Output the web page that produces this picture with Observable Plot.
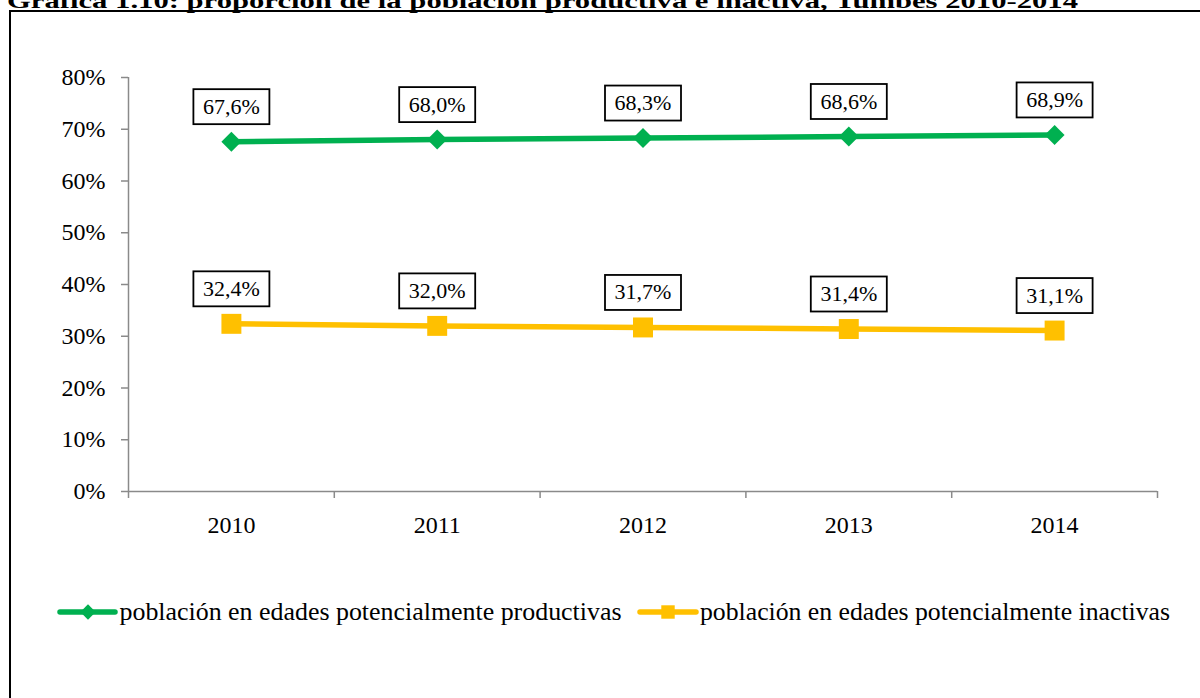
<!DOCTYPE html>
<html>
<head>
<meta charset="utf-8">
<script src="https://cdn.jsdelivr.net/npm/d3@7"></script>
<script src="https://cdn.jsdelivr.net/npm/@observablehq/plot@0.6"></script>
<style>
  body { margin: 0; background: #fff; }
  #wrap { position: relative; width: 1200px; height: 698px; overflow: hidden; background: #fff; }
  #frame { position: absolute; left: 9px; top: 10px; width: 1400px; height: 900px;
           border-left: 2.5px solid #000; border-top: 2.5px solid #000; }
  #chart { position: absolute; left: 0; top: 0; }
  #overlay { position: absolute; left: 0; top: 0; }
  #chart svg text, #overlay text { font-family: "Liberation Serif", "Times New Roman", serif; }
</style>
</head>
<body>
<div id="wrap">
  <div id="frame"></div>
  <div id="chart"></div>
  <svg id="overlay" width="1200" height="698"></svg>
</div>
<script>
// ---- data ----
const titleText = "Gráfica 1.10: proporción de la población productiva e inactiva, Tumbes 2010-2014";
const years = [2010, 2011, 2012, 2013, 2014];
const productivas = [0.676, 0.680, 0.683, 0.686, 0.689];
const inactivas = [0.324, 0.320, 0.317, 0.314, 0.311];
const seriesNames = ["población en edades potencialmente productivas", "población en edades potencialmente inactivas"];
const seriesColors = ["#00B050", "#FFC000"];
const yTicks = [0, 0.1, 0.2, 0.3, 0.4, 0.5, 0.6, 0.7, 0.8];

const data = [];
years.forEach((yr, i) => {
  data.push({year: yr, value: productivas[i], serie: seriesNames[0]});
  data.push({year: yr, value: inactivas[i], serie: seriesNames[1]});
});

const xDomain = [years[0] - 0.5, years[years.length - 1] + 0.5];
const boundaries = d3.range(years.length + 1).map(i => xDomain[0] + i);
const fmtLabel = v => d3.format(".1%")(v).replace(".", ",");
const axisColor = "#8a8a8a";
const font = "Liberation Serif, Times New Roman, serif";

function boxes(index, scales, values, dimensions, context, next) {
  const g = next(index, scales, values, dimensions, context);
  const w = 76, h = 35;
  for (const i of index) {
    const r = document.createElementNS("http://www.w3.org/2000/svg", "rect");
    r.setAttribute("x", values.x[i] - w / 2);
    r.setAttribute("y", values.y[i] - h / 2);
    r.setAttribute("width", w);
    r.setAttribute("height", h);
    r.setAttribute("fill", "#fff");
    r.setAttribute("stroke", "#000");
    r.setAttribute("stroke-width", 1.8);
    g.insertBefore(r, g.firstChild);
  }
  return g;
}

const chart = Plot.plot({
  width: 1200,
  height: 698,
  marginLeft: 128,
  marginRight: 43,
  marginTop: 77,
  marginBottom: 207,
  style: {background: "none", fontFamily: font, fontSize: "24px", color: "#000"},
  x: {type: "linear", domain: xDomain},
  y: {domain: [0, 0.8]},
  color: {domain: seriesNames, range: seriesColors},
  marks: [
    Plot.axisY({ticks: yTicks, tickFormat: d3.format(".0%"), tickSize: 7, tickPadding: 16,
                stroke: axisColor, strokeWidth: 1.5, fill: "#000", label: null,
                fontSize: 24, fontFamily: font}),
    Plot.axisX({ticks: boundaries, tickSize: 7, tickFormat: () => "", stroke: axisColor,
                strokeWidth: 1.5, label: null}),
    Plot.axisX({ticks: years, tickSize: 0, tickPadding: 24, tickFormat: d => String(d),
                fill: "#000", label: null, fontSize: 24, fontFamily: font}),
    Plot.ruleY([0], {stroke: axisColor, strokeWidth: 1.5}),
    Plot.ruleX([xDomain[0]], {stroke: axisColor, strokeWidth: 1.5}),
    Plot.line(data, {x: "year", y: "value", z: "serie", stroke: "serie", strokeWidth: 5.5}),
    Plot.dot(data, {filter: d => d.serie === seriesNames[0], x: "year", y: "value",
                    symbol: "diamond2", r: 9, fill: seriesColors[0], stroke: "none"}),
    Plot.dot(data, {filter: d => d.serie === seriesNames[1], x: "year", y: "value",
                    symbol: "square2", r: 12.7, fill: seriesColors[1], stroke: "none"}),
    Plot.text(data, {x: "year", y: "value", text: d => fmtLabel(d.value), dy: -35,
                     fontSize: 22, fontFamily: font, fill: "#000", render: boxes})
  ]
});
document.getElementById("chart").appendChild(chart);

// ---- title (cut off at the top, as in the source) and legend ----
const ov = d3.select("#overlay");
ov.append("text")
  .attr("x", 7).attr("y", 7.5)
  .attr("font-weight", "bold").attr("font-size", 22)
  .attr("textLength", 1071).attr("lengthAdjust", "spacingAndGlyphs")
  .text(titleText);

const legendItems = [
  {name: seriesNames[0], color: seriesColors[0], symbol: d3.symbolDiamond2, size: 150,
   x1: 60, x2: 115, mx: 88, tx: 119.5, tl: 502},
  {name: seriesNames[1], color: seriesColors[1], symbol: d3.symbolSquare2, size: 230,
   x1: 640, x2: 696, mx: 668, tx: 700, tl: 470}
];
const ly = 612;
legendItems.forEach(it => {
  ov.append("line").attr("x1", it.x1).attr("x2", it.x2).attr("y1", ly).attr("y2", ly)
    .attr("stroke", it.color).attr("stroke-width", 5.5).attr("stroke-linecap", "round");
  ov.append("path").attr("d", d3.symbol(it.symbol, it.size)())
    .attr("transform", `translate(${it.mx},${ly})`).attr("fill", it.color);
  ov.append("text").attr("x", it.tx).attr("y", ly + 8)
    .attr("font-size", 25)
    .attr("textLength", it.tl).attr("lengthAdjust", "spacingAndGlyphs")
    .text(it.name);
});
</script>
</body>
</html>
